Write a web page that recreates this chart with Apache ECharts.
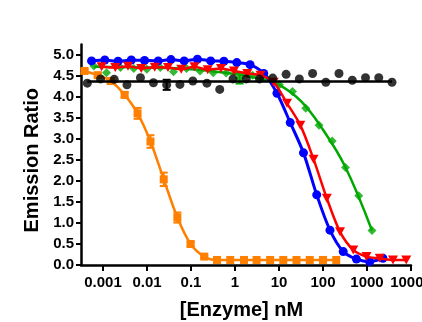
<!DOCTYPE html>
<html><head><meta charset="utf-8">
<script src="https://cdn.jsdelivr.net/npm/echarts@6/dist/echarts.min.js"></script>
<style>html,body{margin:0;padding:0;background:#fff}#c{width:422px;height:322px}</style>
</head><body><div id="c"></div>
<script>
const xTicks = [0.001, 0.01, 0.1, 1, 10, 100, 1000, 10000];
const yTicks = [0, 0.5, 1, 1.5, 2, 2.5, 3, 3.5, 4, 4.5, 5];

const orangeX = [0.00038, 0.00076, 0.0015, 0.0031, 0.0061, 0.012, 0.024, 0.049, 0.098, 0.20, 0.39, 0.78, 1.6, 3.1, 6.3, 12.5, 25, 50, 100, 200];
const orangeY = [4.62, 4.52, 4.38, 4.05, 3.61, 2.94, 2.04, 1.13, 0.50, 0.20, 0.12, 0.12, 0.12, 0.12, 0.12, 0.12, 0.12, 0.12, 0.12, 0.12];
const orangeErr = [0.05, 0.05, 0.06, 0.06, 0.13, 0.15, 0.16, 0.12, 0.05, 0.03, 0, 0, 0, 0, 0, 0, 0, 0, 0, 0];

const blueX = [0.00055, 0.0011, 0.0022, 0.0044, 0.0088, 0.018, 0.035, 0.070, 0.14, 0.28, 0.56, 1.1, 2.2, 4.5, 9.0, 18, 36, 72, 144, 288, 575, 1150, 2300];
const blueY = [4.86, 4.88, 4.85, 4.88, 4.87, 4.86, 4.89, 4.86, 4.90, 4.86, 4.85, 4.82, 4.77, 4.56, 4.09, 3.39, 2.67, 1.67, 0.83, 0.32, 0.14, 0.08, 0.16];

const redX = [0.00093, 0.0019, 0.0037, 0.0074, 0.015, 0.030, 0.060, 0.12, 0.24, 0.48, 0.95, 1.9, 3.8, 7.6, 15.2, 30.5, 61, 122, 244, 488, 975, 1950, 3900, 7800];
const redY = [4.72, 4.70, 4.73, 4.68, 4.71, 4.70, 4.66, 4.72, 4.65, 4.68, 4.62, 4.56, 4.52, 4.35, 3.85, 3.33, 2.52, 1.59, 0.79, 0.36, 0.20, 0.16, 0.12, 0.12];

const greenX = [0.00062, 0.0012, 0.0025, 0.0050, 0.0099, 0.020, 0.040, 0.079, 0.16, 0.32, 0.63, 1.27, 2.5, 5.1, 10.2, 20.3, 40.6, 81, 162, 325, 650, 1300];
const greenY = [4.74, 4.58, 4.70, 4.68, 4.66, 4.70, 4.60, 4.68, 4.62, 4.58, 4.57, 4.45, 4.52, 4.45, 4.29, 4.13, 3.73, 3.33, 2.95, 2.32, 1.65, 0.82];
const greenErr = [0, 0, 0, 0, 0, 0, 0, 0, 0, 0, 0, 0.13, 0, 0, 0, 0, 0, 0, 0, 0, 0, 0];
const greenFitX = [0.00062, 0.01, 0.1, 1, 3.16, 10, 31.6, 100, 316, 1300];
const greenFitY = [4.72, 4.70, 4.66, 4.55, 4.45, 4.29, 3.90, 3.22, 2.35, 0.82];

const blackX = [0.00044, 0.00088, 0.0018, 0.0035, 0.0071, 0.014, 0.028, 0.056, 0.11, 0.23, 0.45, 0.90, 1.8, 3.6, 7.2, 14.5, 29, 58, 116, 231, 463, 925, 1850, 3700];
const blackY = [4.33, 4.43, 4.42, 4.29, 4.46, 4.34, 4.29, 4.30, 4.38, 4.33, 4.18, 4.43, 4.43, 4.43, 4.45, 4.54, 4.43, 4.56, 4.35, 4.56, 4.40, 4.46, 4.46, 4.35];
const blackErr = [0, 0, 0, 0, 0, 0, 0.12, 0, 0, 0, 0, 0, 0, 0, 0, 0, 0, 0, 0, 0, 0, 0, 0, 0];
const blackFitX = [0.00044, 3700];
const blackFitY = [4.37, 4.37];

const zip = (a, b) => a.map((v, i) => [v, b[i]]);
const zip3 = (a, b, c) => a.map((v, i) => [v, b[i], c[i]]).filter(d => d[2] > 0);

function errSeries(data, color, z) {
  return {
    type: 'custom', z: z, silent: true,
    renderItem: function (params, api) {
      const x = api.value(0), y = api.value(1), e = api.value(2);
      const top = api.coord([x, y + e]);
      const bot = api.coord([x, y - e]);
      const hw = 4;
      const st = { stroke: color, lineWidth: 2 };
      return { type: 'group', children: [
        { type: 'line', shape: { x1: top[0], y1: top[1], x2: bot[0], y2: bot[1] }, style: st },
        { type: 'line', shape: { x1: top[0] - hw, y1: top[1], x2: top[0] + hw, y2: top[1] }, style: st },
        { type: 'line', shape: { x1: bot[0] - hw, y1: bot[1], x2: bot[0] + hw, y2: bot[1] }, style: st }
      ]};
    },
    data: data
  };
}

const C = { orange: '#FF8000', blue: '#0000FF', red: '#FF0000', green: '#00A800', black: '#000000' };
const fontFam = '"Liberation Sans", Arial, sans-serif';

const chart = echarts.init(document.getElementById('c'), null, { renderer: 'canvas' });
chart.setOption({
  animation: false,
  backgroundColor: '#fff',
  grid: { left: 81, top: 44.5, width: 330, height: 220.5, outerBoundsMode: 'none', containLabel: false },
  xAxis: {
    type: 'log', logBase: 10, min: Math.pow(10, -3.5), max: 10000,
    name: '[Enzyme] nM', nameLocation: 'middle', nameGap: 35,
    nameTextStyle: { fontFamily: fontFam, fontWeight: 'bold', fontSize: 20, color: '#000', padding: [0, 9, 0, 0] },
    axisLine: { show: true, onZero: false, lineStyle: { color: '#000', width: 2.5 } },
    axisTick: { show: true, inside: false, length: 6, customValues: xTicks, lineStyle: { color: '#000', width: 2 } },
    axisLabel: { customValues: xTicks, margin: 10, fontFamily: fontFam, fontWeight: 'bold', fontSize: 15, color: '#000',
      formatter: v => v >= 1 ? String(Math.round(v)) : String(+Number(v).toPrecision(1)) },
    splitLine: { show: false }, minorTick: { show: false }
  },
  yAxis: {
    type: 'value', min: 0, max: 5.25,
    name: 'Emission Ratio', nameLocation: 'middle', nameGap: 36,
    nameTextStyle: { fontFamily: fontFam, fontWeight: 'bold', fontSize: 20, color: '#000', padding: [0, 11, 0, 0] },
    axisLine: { show: true, onZero: false, lineStyle: { color: '#000', width: 2.5 } },
    axisTick: { show: true, inside: false, length: 5, customValues: yTicks, lineStyle: { color: '#000', width: 2 } },
    axisLabel: { customValues: yTicks, margin: 7, fontFamily: fontFam, fontWeight: 'bold', fontSize: 15, color: '#000',
      formatter: v => Number(v).toFixed(1) },
    splitLine: { show: false }
  },
  series: [
    errSeries(zip3(orangeX, orangeY, orangeErr), C.orange, 2),
    { type: 'line', z: 2, data: zip(orangeX, orangeY), smooth: 0.3, symbol: 'rect', symbolSize: 8,
      itemStyle: { color: C.orange }, lineStyle: { color: C.orange, width: 2.5 } },
    { type: 'line', z: 3, data: zip(greenFitX, greenFitY), smooth: 0.4, showSymbol: false, symbol: 'none',
      lineStyle: { color: C.green, width: 2.5 } },
    errSeries(zip3(greenX, greenY, greenErr), C.green, 3),
    { type: 'scatter', z: 3, data: zip(greenX, greenY), symbol: 'diamond', symbolSize: 9, itemStyle: { color: C.green } },
    { type: 'line', z: 4, data: zip(blueX, blueY), smooth: 0.3, symbol: 'circle', symbolSize: 9,
      itemStyle: { color: C.blue }, lineStyle: { color: C.blue, width: 3 } },
    { type: 'line', z: 5, data: zip(redX, redY), smooth: 0.3, symbol: 'triangle', symbolRotate: 180, symbolSize: [10, 9],
      itemStyle: { color: C.red }, lineStyle: { color: C.red, width: 2.5 } },
    { type: 'line', z: 6, data: zip(blackFitX, blackFitY), showSymbol: false, symbol: 'none',
      lineStyle: { color: C.black, width: 2.5 } },
    errSeries(zip3(blackX, blackY, blackErr), C.black, 6),
    { type: 'scatter', z: 6, data: zip(blackX, blackY), symbol: 'circle', symbolSize: 9, itemStyle: { color: C.black } }
  ]
});
</script>
</body></html>
